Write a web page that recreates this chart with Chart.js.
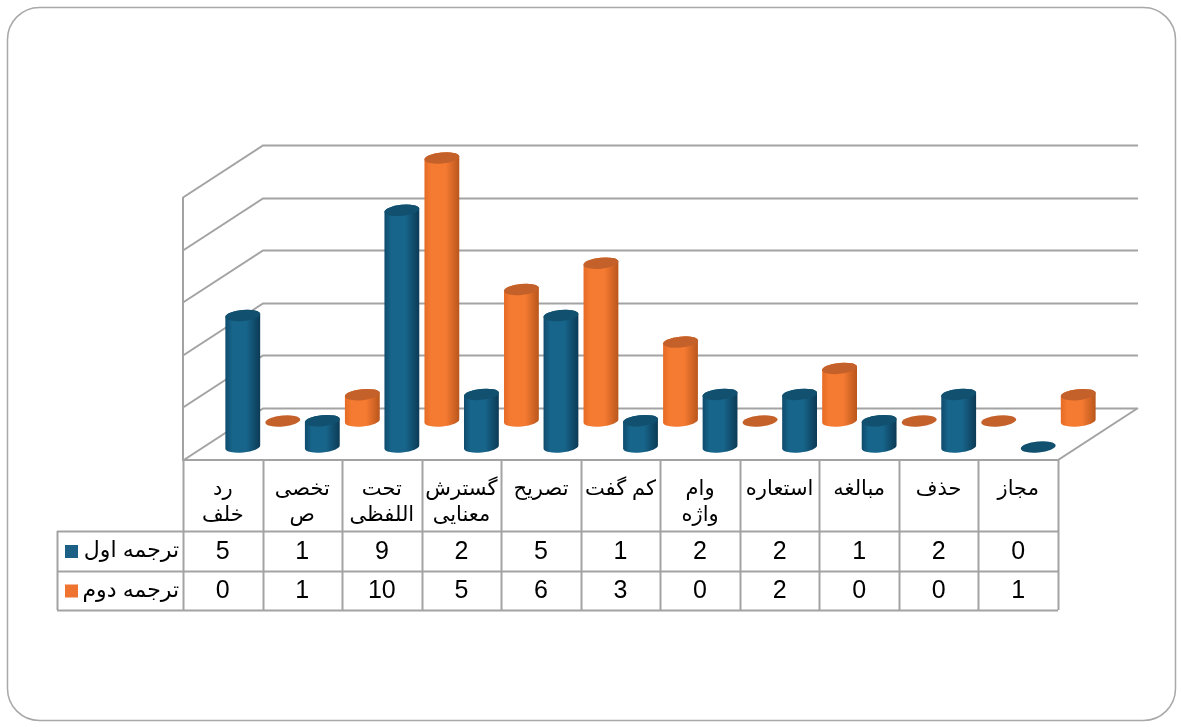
<!DOCTYPE html>
<html>
<head>
<meta charset="utf-8">
<script src="https://cdn.jsdelivr.net/npm/chart.js@4/dist/chart.umd.min.js"></script>
<style>
  html, body { margin: 0; padding: 0; background: #fff; }
  #wrap { position: relative; width: 1181px; height: 727px; }
</style>
</head>
<body>
<div id="wrap"><canvas id="chart" width="1181" height="727"></canvas></div>
<script>
// data
const categoryLines = [
  ["رد", "خلف"], ["تخصی", "ص"], ["تحت", "اللفظی"], ["گسترش", "معنایی"],
  ["تصریح"], ["کم گفت"], ["وام", "واژه"], ["استعاره"], ["مبالغه"], ["حذف"], ["مجاز"]
];
const seriesNames = ["ترجمه اول", "ترجمه دوم"];
const firstValues = [5, 1, 9, 2, 5, 1, 2, 2, 1, 2, 0];
const secondValues = [0, 1, 10, 5, 6, 3, 0, 2, 0, 0, 1];
const yTicks = [0, 2, 4, 6, 8, 10];

const fontFamily = '"Liberation Sans", Arial, "DejaVu Sans", sans-serif';
const gridColor = "#a3a3a3";
const depth = { x: 80, y: -52 };
const rowPos = [0.25, 0.75];
const palettes = [
  { edge: "#0f4b6c", mid: "#17658b", dark: "#0c3a55", top: "#11506f", key: "#1c6185" },
  { edge: "#e56c26", mid: "#f67b32", dark: "#b9561c", top: "#c4612a", key: "#ef7430" }
];

function drawCylinder(ctx, cx, top, base, rx, ry, pal) {
  const tilt = -0.1;
  if (base - top > 0.5) {
    const g = ctx.createLinearGradient(cx - rx, 0, cx + rx, 0);
    g.addColorStop(0, pal.edge);
    g.addColorStop(0.2, pal.mid);
    g.addColorStop(0.6, pal.mid);
    g.addColorStop(1, pal.dark);
    ctx.beginPath();
    ctx.ellipse(cx, top, rx, ry, tilt, Math.PI, 0, false);
    ctx.ellipse(cx, base, rx, ry, tilt, 0, Math.PI, false);
    ctx.closePath();
    ctx.fillStyle = g;
    ctx.fill();
  }
  ctx.beginPath();
  ctx.ellipse(cx, top, rx, ry, tilt, 0, Math.PI * 2);
  ctx.fillStyle = pal.top;
  ctx.fill();
}

const scene = {
  id: "scene",
  beforeDraw(chart) {
    const ctx = chart.ctx;
    ctx.save();
    ctx.fillStyle = "#fff";
    ctx.fillRect(0, 0, chart.width, chart.height);
    ctx.beginPath();
    ctx.roundRect(7.5, 7.5, 1168, 713, 32);
    ctx.strokeStyle = "#a8a8a8";
    ctx.lineWidth = 1.5;
    ctx.stroke();
    ctx.restore();
  },
  beforeDatasetsDraw(chart) {
    const ctx = chart.ctx;
    const { left, right } = chart.chartArea;
    const y = chart.scales.y;
    ctx.save();
    ctx.strokeStyle = gridColor;
    ctx.lineWidth = 2;
    ctx.beginPath();
    yTicks.forEach(v => {
      const py = Math.round(y.getPixelForValue(v)) + 0.5;
      ctx.moveTo(left, py);
      ctx.lineTo(left + depth.x, py + depth.y);
      ctx.lineTo(right + depth.x, py + depth.y);
    });
    const p0 = y.getPixelForValue(0);
    const pTop = y.getPixelForValue(yTicks[yTicks.length - 1]);
    ctx.moveTo(left, pTop);
    ctx.lineTo(left, p0);
    ctx.lineTo(right, p0);
    ctx.lineTo(right + depth.x, p0 + depth.y);
    ctx.stroke();

    // cylinders, back row first
    for (let d = chart.data.datasets.length - 1; d >= 0; d--) {
      const meta = chart.getDatasetMeta(d);
      const ox = depth.x * rowPos[d], oy = depth.y * rowPos[d];
      meta.data.forEach(bar => {
        const rx = bar.width / 2;
        drawCylinder(ctx, bar.x + ox, bar.y + oy, bar.base + oy, rx, 5.5, palettes[d]);
      });
    }
    ctx.restore();
  },
  afterDraw(chart) {
    const ctx = chart.ctx;
    const x = chart.scales.x;
    const { left, right, bottom } = chart.chartArea;
    const colW = (right - left) / categoryLines.length;
    const rowTops = [bottom, 531, 571, 610];
    const tableLeft = 57;
    ctx.save();
    ctx.strokeStyle = gridColor;
    ctx.lineWidth = 2;
    ctx.beginPath();
    for (let i = 0; i <= categoryLines.length; i++) {
      const px = Math.round(left + i * colW) + 0.5;
      ctx.moveTo(px, rowTops[0]);
      ctx.lineTo(px, rowTops[3]);
    }
    for (let r = 1; r < 4; r++) {
      ctx.moveTo(tableLeft, rowTops[r] + 0.5);
      ctx.lineTo(right, rowTops[r] + 0.5);
    }
    ctx.moveTo(tableLeft + 0.5, rowTops[1]);
    ctx.lineTo(tableLeft + 0.5, rowTops[3]);
    ctx.stroke();

    const textFont = "21px " + fontFamily;
    const numFont = "25px " + fontFamily;
    ctx.fillStyle = "#000";
    ctx.font = textFont;
    ctx.textAlign = "center";
    ctx.textBaseline = "middle";
    categoryLines.forEach((lines, i) => {
      const cx = x.getPixelForValue(i);
      lines.forEach((t, j) => ctx.fillText(t, cx, 489 + j * 26));
    });
    chart.data.datasets.forEach((ds, d) => {
      const cy = (rowTops[d + 1] + rowTops[d + 2]) / 2 + 1;
      ctx.font = numFont;
      ctx.textAlign = "center";
      ds.data.forEach((v, i) => ctx.fillText(String(v), x.getPixelForValue(i), cy));
      ctx.fillStyle = palettes[d].key;
      ctx.fillRect(65, cy - 7, 13, 13);
      ctx.fillStyle = "#000";
      ctx.textAlign = "right";
      ctx.font = "22px " + fontFamily;
      ctx.fillText(ds.label, 179, cy - 1);
    });
    ctx.restore();
  }
};

new Chart(document.getElementById("chart"), {
  type: "bar",
  data: {
    labels: categoryLines.map(l => l.join(" ")),
    datasets: [
      { label: seriesNames[0], data: firstValues, backgroundColor: "transparent", borderWidth: 0, barThickness: 35, grouped: false },
      { label: seriesNames[1], data: secondValues, backgroundColor: "transparent", borderWidth: 0, barThickness: 35, grouped: false }
    ]
  },
  options: {
    responsive: false,
    animation: false,
    layout: { padding: { left: 183, right: 123, top: 197, bottom: 267 } },
    scales: {
      x: { display: false },
      y: { display: false, min: 0, max: 10, ticks: { stepSize: 2 } }
    },
    plugins: { legend: { display: false }, tooltip: { enabled: false } }
  },
  plugins: [scene]
});
</script>
</body>
</html>
